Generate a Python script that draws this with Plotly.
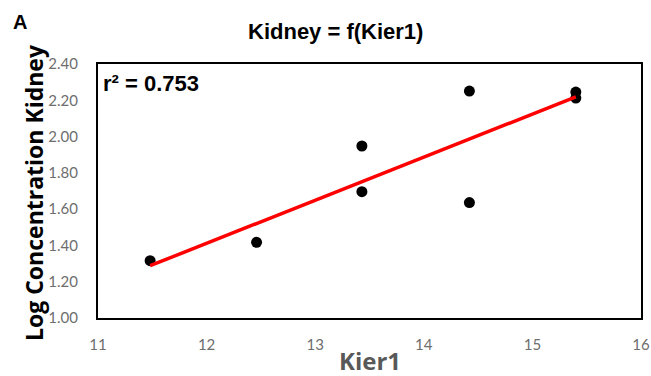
import numpy as np
import plotly.graph_objects as go

# Kier1 descriptor vs. log concentration in kidney
kier1 = [11.48, 12.46, 13.43, 13.43, 14.42, 14.42, 15.40, 15.40]
log_conc_kidney = [1.316, 1.417, 1.696, 1.948, 2.251, 1.636, 2.245, 2.212]

x_ticks = [11, 12, 13, 14, 15, 16]
y_ticks = [1.00, 1.20, 1.40, 1.60, 1.80, 2.00, 2.20, 2.40]

# Least-squares trend line over the observed range
slope, intercept = np.polyfit(kier1, log_conc_kidney, 1)
fit_x = [min(kier1), max(kier1)]
fit_y = [slope * v + intercept for v in fit_x]

fig = go.Figure()
fig.add_trace(go.Scatter(
    x=kier1, y=log_conc_kidney, mode="markers",
    marker=dict(color="black", size=11),
    showlegend=False,
))
fig.add_trace(go.Scatter(
    x=fit_x, y=fit_y, mode="lines",
    line=dict(color="#ff0000", width=3.5),
    showlegend=False,
))

tick_font = dict(family="Lato, Open Sans, sans-serif", size=15, color="#6e6e6e")
arial = "Liberation Sans, Arial, sans-serif"
opensans = "Open Sans, sans-serif"

fig.update_layout(
    width=651, height=376, autosize=False,
    margin=dict(l=98, r=10, t=64, b=58, autoexpand=False),
    paper_bgcolor="white", plot_bgcolor="white",
    xaxis=dict(
        range=[11, 16], tickvals=x_ticks, ticktext=[str(t) for t in x_ticks],
        showgrid=False, zeroline=False, showline=True, linecolor="black",
        linewidth=2, mirror=True, ticks="", ticklabelstandoff=12,
        tickfont=tick_font, automargin=False,
    ),
    yaxis=dict(
        range=[1.0, 2.4], tickvals=y_ticks, ticktext=[f"{t:.2f}" for t in y_ticks],
        showgrid=False, zeroline=False, showline=True, linecolor="black",
        linewidth=2, mirror=True, ticks="", ticklabelstandoff=15,
        tickfont=tick_font, automargin=False,
    ),
    annotations=[
        dict(text="<b>Kidney = f(Kier1)</b>", xref="paper", yref="paper",
             x=0.438, y=1.0, yshift=33, showarrow=False, xanchor="center",
             yanchor="middle",
             font=dict(family=arial, size=22, color="black")),
        dict(text="<b>A</b>", xref="paper", yref="paper",
             x=0, xshift=-87, y=1.0, yshift=42, showarrow=False,
             xanchor="left", yanchor="middle",
             font=dict(family=arial, size=20, color="black")),
        dict(text="<b>r² = 0.753</b>", xref="paper", yref="paper",
             x=0, xshift=3, y=1.0, yshift=-19, showarrow=False,
             xanchor="left", yanchor="middle",
             font=dict(family=arial, size=22, color="black")),
        dict(text="<b>Log Concentration Kidney</b>", xref="paper", yref="paper",
             x=0, xshift=-64, y=0.5, yshift=-2, showarrow=False, textangle=-90,
             xanchor="center", yanchor="middle",
             font=dict(family=opensans, size=23, color="black")),
        dict(text="<b>Kier1</b>", xref="paper", yref="paper",
             x=0.5, xshift=0, y=0, yshift=-24, showarrow=False,
             xanchor="center", yanchor="top",
             font=dict(family=opensans, size=24, color="#595959")),
    ],
)

fig.write_html("out.html", config={"responsive": False})
